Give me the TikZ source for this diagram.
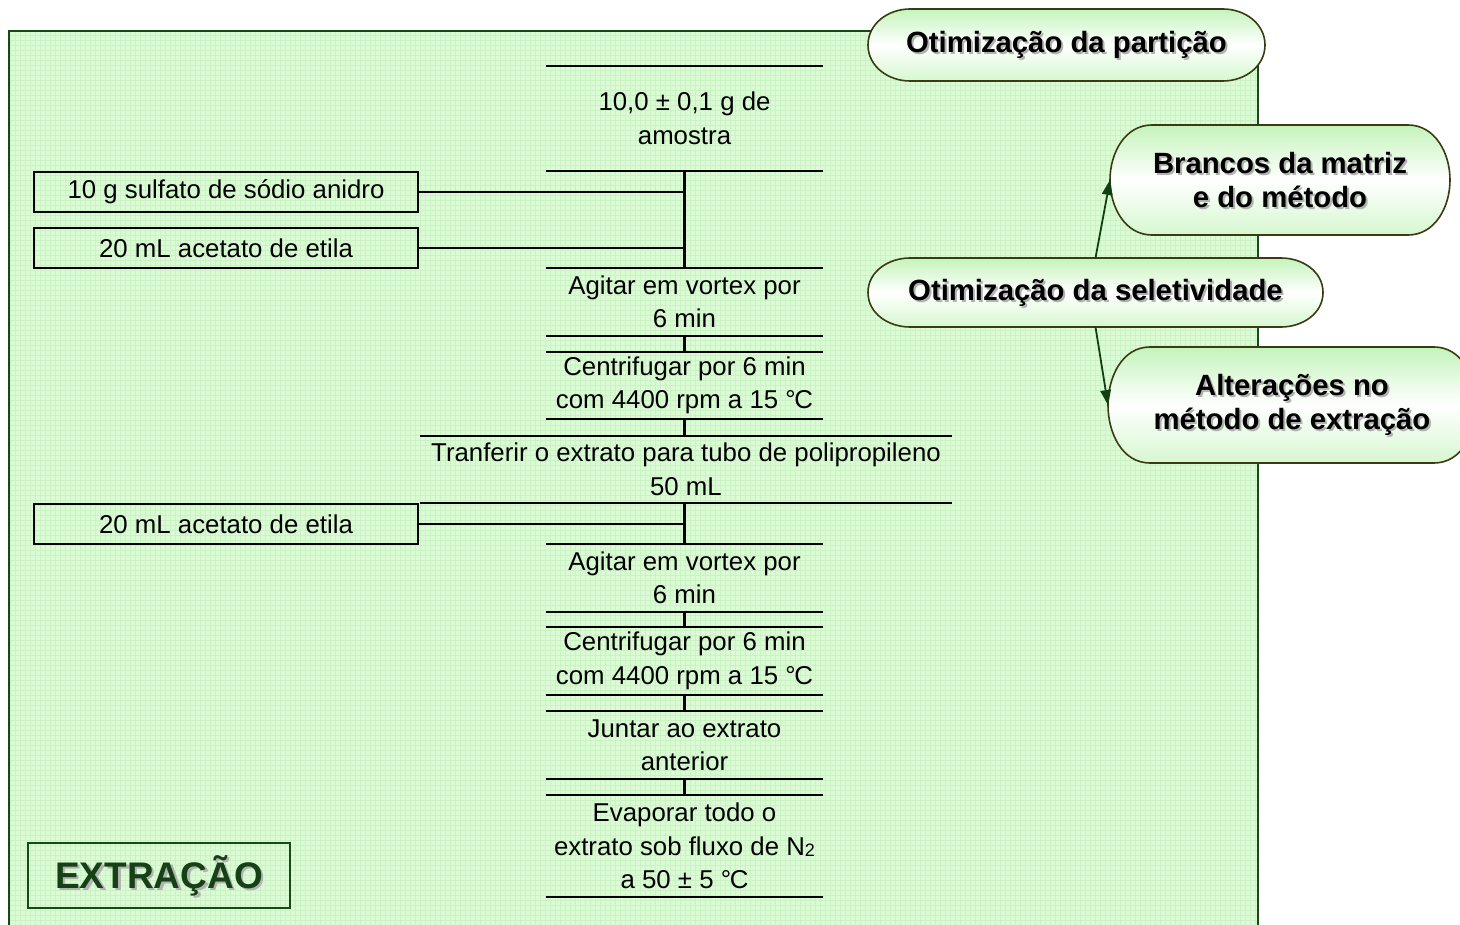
\documentclass[tikz,border=0pt]{standalone}
\usepackage{fontspec}
\setmainfont{Liberation Sans}
\usetikzlibrary{calc}
\definecolor{bgg}{RGB}{218,251,212}
\definecolor{gridg}{RGB}{202,242,196}
\definecolor{frameg}{RGB}{24,72,24}
\definecolor{pillg}{RGB}{196,244,186}
\definecolor{pilledge}{RGB}{58,58,20}
\definecolor{titleg}{RGB}{22,64,22}
\definecolor{arrowg}{RGB}{16,64,16}
\newcommand\degC{°\kern-0.05em C}
% elliptical-ended capsule around a placeholder node
\newcommand\capsule[1]{%
  \path[capsulepath] ([xshift=42pt]#1.north west) -- ([xshift=-42pt]#1.north east)
    to[out=0,in=90] (#1.east) to[out=-90,in=0] ([xshift=-42pt]#1.south east)
    -- ([xshift=42pt]#1.south west) to[out=180,in=-90] (#1.west)
    to[out=90,in=180] cycle;}
% arrow with a solid triangular head: #1 start, #2 tip
\newcommand\flowarrow[2]{%
  \coordinate (ab) at ($(#2)!15pt!(#1)$);
  \draw[flow] (#1) -- (ab);
  \fill[arrowg] (#2) -- ($(ab)!5.5pt!90:(#2)$) -- ($(ab)!5.5pt!-90:(#2)$) -- cycle;}
\begin{document}
\begin{tikzpicture}[x=1pt,y=-1pt,
  steptext/.style={font=\fontsize{25.8}{33.5}\selectfont, align=center, inner sep=0pt,
    minimum width=277pt},
  rule/.style={line width=2.4pt, black},
  link/.style={line width=2.2pt, black},
  sidebox/.style={draw=black, line width=2pt, minimum width=384pt, minimum height=40pt,
    inner sep=0pt, font=\fontsize{25.8}{30}\selectfont},
  holder/.style={inner sep=0pt, outer sep=0pt},
  capsulepath/.style={draw=pilledge, line width=1.6pt, top color=pillg,
    bottom color=pillg!70, middle color=white},
  capsuletext/.style={font=\fontsize{29.3}{34}\selectfont\bfseries, align=center, inner sep=0pt},
  shadowtext/.style={capsuletext, text=black!30},
  flow/.style={arrowg, line width=1.8pt},
]
\useasboundingbox (0,0) rectangle (1460,925);

% panel with fine grid texture
\fill[bgg] (9,31) rectangle (1258,945);
\begin{scope}
  \clip (9,31) rectangle (1258,945);
  \draw[gridg, line width=0.5pt] (9,31) grid[step=5pt] (1258,945);
\end{scope}
\draw[frameg, line width=2pt] (9,31) rectangle (1258,945);

% procedure steps
\node[steptext, minimum height=105pt] (s1) at (684.5,118.5) {10,0 ± 0,1 g de\\amostra};
\node[steptext, minimum height=97pt] (s2) at (684.5,302) {Agitar em vortex por\\6 min};
\node[steptext, minimum height=67pt] (s3) at (684.5,385.5) {Centrifugar por 6 min\\com 4400 rpm a 15 \degC};
\node[steptext, minimum width=532pt, minimum height=67pt] (s4) at (686,469.5) {Tranferir o extrato para tubo de polipropileno\\50 mL};
\node[steptext, minimum height=68pt] (s5) at (684.5,578) {Agitar em vortex por\\6 min};
\node[steptext, minimum height=68pt] (s6) at (684.5,661) {Centrifugar por 6 min\\com 4400 rpm a 15 \degC};
\node[steptext, minimum height=68pt] (s7) at (684.5,745) {Juntar ao extrato\\anterior};
\node[steptext, minimum height=102pt] (s8) at (684.5,846) {Evaporar todo o\\extrato sob fluxo de N\raisebox{-1pt}{\fontsize{18}{18}\selectfont 2}\\a 50 ± 5 \degC};

% the second step box spans 268..336; its rules sit there
\coordinate (s2top) at (684.5,268);
\coordinate (s2bot) at (684.5,336);

\foreach \n in {s1,s3,s4,s5,s6,s7,s8}
  \draw[rule] (\n.north west) -- (\n.north east) (\n.south west) -- (\n.south east);
\draw[rule] (s2top -| s1.west) -- (s2top -| s1.east) (s2bot -| s1.west) -- (s2bot -| s1.east);

% reagent boxes
\node[sidebox] (b1) at (226,192) {10 g sulfato de sódio anidro};
\node[sidebox] (b2) at (226,248) {20 mL acetato de etila};
\node[sidebox] (b3) at (226,524) {20 mL acetato de etila};

% connectors
\draw[link] (s1.south) -- (s2top);
\draw[link] (b1.east) -- (b1.east -| s1.south);
\draw[link] (b2.east) -- (b2.east -| s1.south);
\draw[link] (s2bot) -- (s3.north);
\draw[link] (s3.south) -- (s3.south |- s4.north);
\draw[link] (s3.south |- s4.south) -- (s5.north);
\draw[link] (b3.east) -- (b3.east -| s5.north);
\draw[link] (s5.south) -- (s6.north);
\draw[link] (s6.south) -- (s7.north);
\draw[link] (s7.south) -- (s8.north);

% section label
\node[draw=frameg, line width=1.5pt, minimum width=262pt, minimum height=65pt, inner sep=0pt] (title) at (159,875.5) {};
\node[font=\fontsize{37}{37}\selectfont\bfseries, text=black!30] (titleshadow) at ([shift={(2.5,2.5)}]title.center) {EXTRAÇÃO};
\node[font=\fontsize{37}{37}\selectfont\bfseries, text=titleg] (titletext) at (title.center) {EXTRAÇÃO};

% capsules on the right
\node[holder, minimum width=397pt, minimum height=72pt] (p1) at (1066.5,45) {};
\node[holder, minimum width=340pt, minimum height=110pt] (p2) at (1280,180) {};
\node[holder, minimum width=455pt, minimum height=69pt] (p3) at (1095.5,292.5) {};
\node[holder, minimum width=368pt, minimum height=116pt] (p4) at (1292,405) {};
\capsule{p1}\capsule{p2}\capsule{p3}\capsule{p4}

\node[shadowtext] (p1s) at ([shift={(2,2)}]p1.center) {Otimização da partição};
\node[capsuletext] (p1t) at (p1.center) {Otimização da partição};
\node[shadowtext] (p2s) at ([shift={(2,2)}]p2.center) {Brancos da matriz\\e do método};
\node[capsuletext] (p2t) at (p2.center) {Brancos da matriz\\e do método};
\node[shadowtext] (p3s) at ([shift={(2,2)}]p3.center) {Otimização da seletividade};
\node[capsuletext] (p3t) at (p3.center) {Otimização da seletividade};
\node[shadowtext] (p4s) at ([shift={(2,2)}]p4.center) {Alterações no\\método de extração};
\node[capsuletext] (p4t) at (p4.center) {Alterações no\\método de extração};

\flowarrow{p3.north}{p2.west}
\flowarrow{p3.south}{p4.west}
\end{tikzpicture}
\end{document}
